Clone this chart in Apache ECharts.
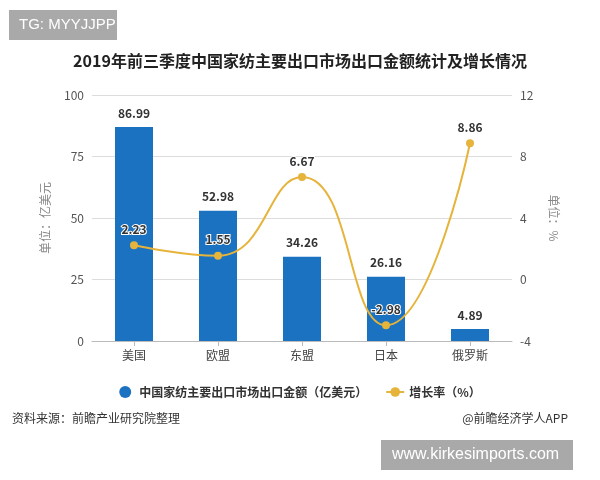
<!DOCTYPE html>
<html>
<head>
<meta charset="utf-8">
<script src="https://cdn.jsdelivr.net/npm/echarts@6/dist/echarts.min.js"></script>
<style>html,body{margin:0;padding:0;background:#fff}#c{width:600px;height:480px}</style>
</head>
<body>
<div id="c"></div>
<script>
const categories = ['美国', '欧盟', '东盟', '日本', '俄罗斯'];
const exportValues = [86.99, 52.98, 34.26, 26.16, 4.89];
const growthRates = [2.23, 1.55, 6.67, -2.98, 8.86];
const leftTicks = [0, 25, 50, 75, 100];
const rightTicks = [-4, 0, 4, 8, 12];

const FONT = '"Noto Sans CJK SC", "Noto Sans", sans-serif';
const chart = echarts.init(document.getElementById('c'), null, {renderer: 'canvas'});
chart.setOption({
  backgroundColor: '#fff',
  textStyle: {fontFamily: FONT},
  title: {
    text: '2019年前三季度中国家纺主要出口市场出口金额统计及增长情况',
    left: 'center', top: 48,
    textStyle: {fontSize: 16, fontWeight: 'bold', color: '#222', fontFamily: FONT}
  },
  legend: {
    top: 381, left: 'center',
    itemGap: 18, itemWidth: 18, itemHeight: 12,
    textStyle: {fontSize: 12, color: '#333', fontWeight: 'bold', fontFamily: FONT},
    data: [
      {name: '中国家纺主要出口市场出口金额（亿美元）', icon: 'circle'},
      {name: '增长率（%）'}
    ]
  },
  grid: {left: 92, right: 88, top: 95, bottom: 139},
  xAxis: {
    type: 'category', data: categories,
    axisLine: {lineStyle: {color: '#bbb'}},
    axisTick: {show: true, alignWithLabel: true, lineStyle: {color: '#bbb'}},
    axisLabel: {color: '#444', fontSize: 12, margin: 8}
  },
  yAxis: [
    {
      type: 'value', min: leftTicks[0], max: leftTicks[leftTicks.length-1], interval: 25,
      name: '单位：亿美元', nameLocation: 'middle', nameGap: 41, nameRotate: 90,
      nameTextStyle: {color: '#888', fontSize: 12},
      axisLine: {show: false}, axisTick: {show: false},
      axisLabel: {color: '#555', fontSize: 12},
      splitLine: {lineStyle: {color: '#ddd'}}
    },
    {
      type: 'value', min: rightTicks[0], max: rightTicks[rightTicks.length-1], interval: 4,
      name: '单位：%', nameLocation: 'middle', nameGap: 36, nameRotate: -90,
      nameTextStyle: {color: '#888', fontSize: 12},
      axisLine: {show: false}, axisTick: {show: false},
      axisLabel: {color: '#555', fontSize: 12},
      splitLine: {show: false}
    }
  ],
  series: [
    {
      name: '中国家纺主要出口市场出口金额（亿美元）', type: 'bar', data: exportValues,
      barWidth: 38, itemStyle: {color: '#1a72c0'},
      label: {show: true, position: 'top', distance: 8, color: '#333', fontWeight: 'bold', fontSize: 12}
    },
    {
      name: '增长率（%）', type: 'line', yAxisIndex: 1, data: growthRates,
      smooth: true, symbol: 'circle', symbolSize: 8,
      lineStyle: {color: '#e6b33b', width: 2}, itemStyle: {color: '#e6b33b'},
      label: {show: true, position: 'top', distance: 6, color: '#333', fontWeight: 'bold', fontSize: 12,
        textBorderColor: '#fff', textBorderWidth: 2}
    }
  ],
  graphic: [
    {type: 'rect', left: 9, top: 10, shape: {width: 108, height: 30}, style: {fill: '#a9a9a9'}},
    {type: 'text', left: 19, top: 17, style: {text: 'TG: MYYJJPP', fill: '#fff', fontSize: 15, fontFamily: 'Liberation Sans, Arial, sans-serif'}},
    {type: 'text', left: 12, top: 412, style: {text: '资料来源：前瞻产业研究院整理', fill: '#333', fontSize: 12, fontFamily: FONT}},
    {type: 'text', right: 32, top: 412, style: {text: '@前瞻经济学人APP', fill: '#333', fontSize: 12, fontFamily: FONT}},
    {type: 'rect', left: 381, top: 440, shape: {width: 192, height: 30}, style: {fill: '#a9a9a9'}},
    {type: 'text', left: 392, top: 447, style: {text: 'www.kirkesimports.com', fill: '#fff', fontSize: 16, fontFamily: 'Liberation Sans, Arial, sans-serif'}}
  ]
});
</script>
</body>
</html>
